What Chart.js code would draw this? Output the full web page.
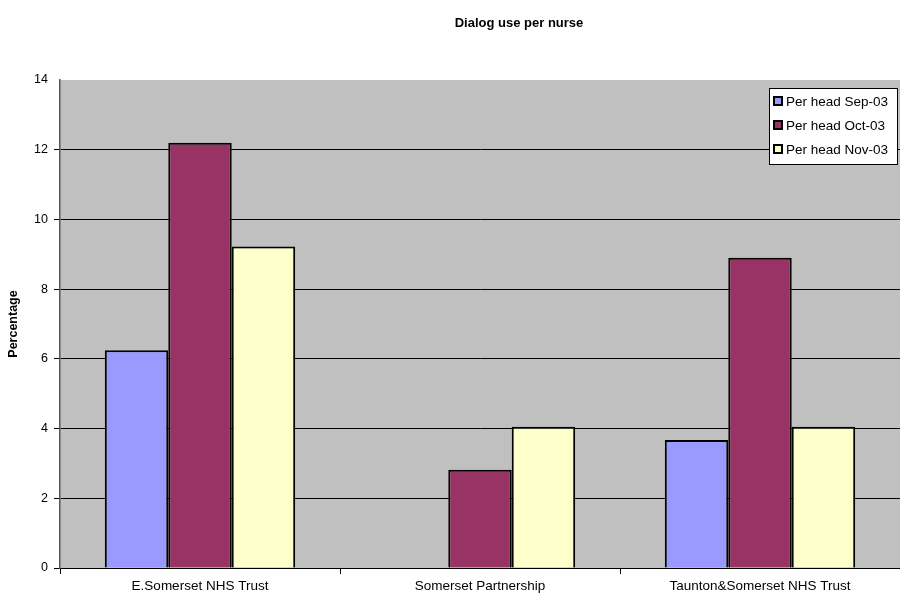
<!DOCTYPE html>
<html>
<head>
<meta charset="utf-8">
<script src="https://cdn.jsdelivr.net/npm/chart.js@4"></script>
<style>
  html, body { margin: 0; padding: 0; background: #fff; }
  #wrap { width: 900px; height: 595px; }
</style>
</head>
<body>
<div id="wrap"><canvas id="myChart" width="900" height="595"></canvas></div>
<script>
const categories = ['E.Somerset NHS Trust', 'Somerset Partnership', 'Taunton&Somerset NHS Trust'];
const seriesNames = ['Per head Sep-03', 'Per head Oct-03', 'Per head Nov-03'];
const sep03 = [6.25, 0, 3.67];
const oct03 = [12.2, 2.82, 8.9];
const nov03 = [9.22, 4.05, 4.05];
const yTicks = [0, 2, 4, 6, 8, 10, 12, 14];

const FONT = 'Arial, "Liberation Sans", sans-serif';

// grey plot area + title
const plotBg = {
    id: 'plotBg',
    beforeDraw(chart) {
        const a = chart.chartArea;
        const c = chart.ctx;
        c.save();
        c.fillStyle = '#C0C0C0';
        c.fillRect(a.left, a.top, a.right - a.left, a.bottom - a.top);
        c.restore();
    },
    afterDraw(chart) {
        const c = chart.ctx;
        c.save();
        c.fillStyle = '#000';
        c.font = 'bold 13px ' + FONT;
        c.textAlign = 'center';
        c.textBaseline = 'middle';
        c.fillText('Dialog use per nurse', 519, 23);
        c.restore();
    }
};

// legend box inside the plot, top right
const boxLegend = {
    id: 'boxLegend',
    afterDraw(chart) {
        const c = chart.ctx;
        const x = 769, y = 88, w = 129, h = 77;
        c.save();
        c.fillStyle = '#fff';
        c.fillRect(x, y, w, h);
        c.strokeStyle = '#000';
        c.lineWidth = 1;
        c.strokeRect(x + 0.5, y + 0.5, w - 1, h - 1);
        c.font = '13.5px ' + FONT;
        c.textBaseline = 'middle';
        c.textAlign = 'left';
        chart.data.datasets.forEach((ds, i) => {
            const cy = y + 13 + i * 24;
            c.fillStyle = ds.backgroundColor;
            c.fillRect(x + 5, cy - 4, 8, 8);
            c.strokeStyle = '#000';
            c.lineWidth = 2;
            c.strokeRect(x + 5, cy - 4, 8, 8);
            c.fillStyle = '#000';
            c.fillText(ds.label, x + 17, cy + 1);
        });
        c.restore();
    }
};

const data = {
    labels: categories,
    datasets: [
        { label: seriesNames[0], data: sep03, backgroundColor: '#9999FF' },
        { label: seriesNames[1], data: oct03, backgroundColor: '#993366' },
        { label: seriesNames[2], data: nov03, backgroundColor: '#FFFFCC' }
    ].map(d => Object.assign(d, { borderColor: '#000', borderWidth: 2, borderSkipped: 'bottom' }))
};

new Chart(document.getElementById('myChart'), {
    type: 'bar',
    data: data,
    options: {
        responsive: false,
        animation: false,
        layout: { padding: { top: 80, right: 0, bottom: 0, left: 0 } },
        categoryPercentage: 0.68,
        barPercentage: 1,
        plugins: {
            legend: { display: false },
            title: { display: false },
            tooltip: { enabled: false }
        },
        scales: {
            x: {
                afterFit(s) { s.height = 27; },
                grid: { offset: true, drawOnChartArea: false, color: '#000', tickLength: 6 },
                border: { color: '#000', width: 1 },
                ticks: { color: '#000', font: { family: FONT, size: 13.5 }, padding: 4, maxRotation: 0 }
            },
            y: {
                min: 0,
                max: 14,
                afterFit(s) { s.width = 60; },
                afterBuildTicks(s) { s.ticks = yTicks.map(v => ({ value: v })); },
                grid: {
                    color: ctx => (ctx.tick && ctx.tick.value === 14) ? 'rgba(0,0,0,0)' : '#000',
                    lineWidth: 1,
                    tickLength: 6,
                    drawTicks: true
                },
                border: { color: '#555', width: 1.5 },
                ticks: { color: '#000', font: { family: FONT, size: 12.5 }, padding: 6 },
                title: {
                    display: true,
                    text: 'Percentage',
                    color: '#000',
                    font: { family: FONT, size: 12.5, weight: 'bold' },
                    padding: { top: 6, bottom: 0 }
                }
            }
        }
    },
    plugins: [plotBg, boxLegend]
});
</script>
</body>
</html>
